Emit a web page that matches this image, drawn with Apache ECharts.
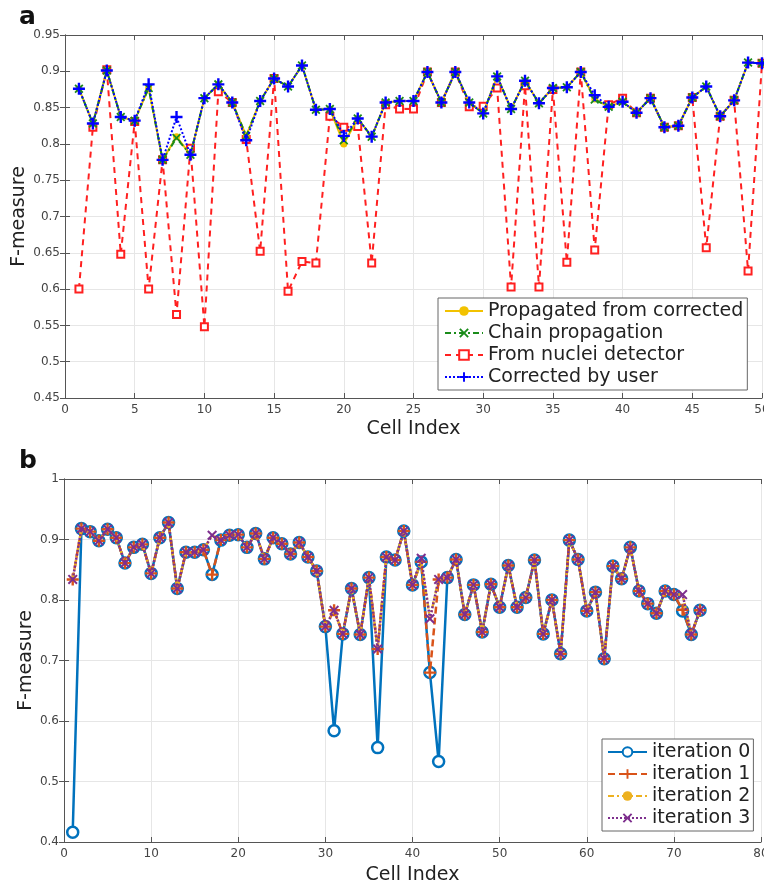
<!DOCTYPE html>
<html>
<head>
<meta charset="utf-8">
<script src="https://cdn.jsdelivr.net/npm/echarts@6/dist/echarts.min.js"></script>
<style>
html,body{margin:0;padding:0;background:#fff;}
#chart{width:764px;height:885px;}
</style>
</head>
<body>
<div id="chart"></div>
<script>
// ---------- Panel a data ----------
var cellsA = [1,2,3,4,5,6,7,8,9,10,11,12,13,14,15,16,17,18,19,20,21,22,23,24,25,26,27,28,29,30,31,32,33,34,35,36,37,38,39,40,41,42,43,44,45,46,47,48,49,50];
var propagatedA = [0.876,0.828,0.901,0.837,0.832,0.877,0.778,0.810,0.785,0.863,0.882,0.857,0.811,0.859,0.890,0.879,0.908,0.847,0.848,0.800,0.835,0.810,0.857,0.859,0.859,0.899,0.857,0.899,0.857,0.842,0.893,0.848,0.887,0.856,0.877,0.878,0.899,0.862,0.851,0.858,0.843,0.863,0.823,0.825,0.864,0.879,0.838,0.860,0.912,0.911];
var chainA = [0.876,0.828,0.901,0.837,0.832,0.877,0.778,0.808,0.785,0.863,0.882,0.857,0.811,0.859,0.890,0.879,0.908,0.847,0.848,0.805,0.835,0.810,0.857,0.859,0.859,0.899,0.857,0.899,0.857,0.842,0.893,0.848,0.887,0.856,0.877,0.878,0.899,0.861,0.851,0.858,0.843,0.863,0.823,0.825,0.864,0.879,0.838,0.860,0.912,0.911];
var detectorA = [0.600,0.823,0.902,0.648,0.831,0.600,0.778,0.565,0.794,0.548,0.872,0.857,0.806,0.652,0.890,0.597,0.638,0.636,0.838,0.823,0.824,0.636,0.854,0.848,0.848,0.899,0.857,0.899,0.851,0.852,0.877,0.603,0.880,0.603,0.875,0.637,0.899,0.654,0.854,0.863,0.843,0.863,0.823,0.825,0.864,0.657,0.838,0.860,0.625,0.911];
var userA = [0.876,0.828,0.901,0.837,0.832,0.882,0.778,0.837,0.785,0.863,0.882,0.857,0.805,0.859,0.890,0.879,0.908,0.847,0.848,0.811,0.835,0.810,0.857,0.859,0.859,0.899,0.857,0.899,0.857,0.842,0.893,0.848,0.887,0.856,0.877,0.878,0.899,0.867,0.851,0.858,0.843,0.863,0.823,0.825,0.864,0.879,0.838,0.860,0.912,0.911];
var namesA = ['Propagated from corrected','Chain propagation','From nuclei detector','Corrected by user'];

// ---------- Panel b data ----------
var cellsB = [1,2,3,4,5,6,7,8,9,10,11,12,13,14,15,16,17,18,19,20,21,22,23,24,25,26,27,28,29,30,31,32,33,34,35,36,37,38,39,40,41,42,43,44,45,46,47,48,49,50,51,52,53,54,55,56,57,58,59,60,61,62,63,64,65,66,67,68,69,70,71,72,73];
var iter0 = [0.416,0.918,0.913,0.898,0.917,0.903,0.861,0.887,0.892,0.844,0.903,0.928,0.819,0.879,0.879,0.883,0.842,0.899,0.907,0.908,0.887,0.910,0.868,0.903,0.893,0.876,0.895,0.871,0.848,0.756,0.584,0.744,0.819,0.743,0.837,0.556,0.871,0.866,0.914,0.825,0.863,0.680,0.533,0.837,0.867,0.776,0.825,0.747,0.826,0.788,0.857,0.788,0.804,0.866,0.744,0.800,0.711,0.899,0.867,0.782,0.813,0.703,0.856,0.835,0.887,0.815,0.794,0.778,0.815,0.809,0.782,0.743,0.783];
var iter1 = [0.834,0.918,0.913,0.898,0.917,0.903,0.861,0.887,0.892,0.844,0.903,0.928,0.819,0.879,0.879,0.883,0.842,0.899,0.907,0.908,0.887,0.910,0.868,0.903,0.893,0.876,0.895,0.871,0.848,0.756,0.783,0.744,0.819,0.743,0.837,0.719,0.871,0.866,0.914,0.825,0.863,0.680,0.834,0.837,0.867,0.776,0.825,0.747,0.826,0.788,0.857,0.788,0.804,0.866,0.744,0.800,0.711,0.899,0.867,0.782,0.813,0.703,0.856,0.835,0.887,0.815,0.794,0.778,0.815,0.809,0.784,0.743,0.783];
var iter2 = [0.834,0.918,0.913,0.898,0.917,0.903,0.861,0.887,0.892,0.844,0.903,0.928,0.819,0.879,0.879,0.883,0.907,0.899,0.907,0.908,0.887,0.910,0.868,0.903,0.893,0.876,0.895,0.871,0.848,0.756,0.783,0.744,0.819,0.743,0.837,0.719,0.871,0.866,0.914,0.825,0.863,0.769,0.834,0.837,0.867,0.776,0.825,0.747,0.826,0.788,0.857,0.788,0.804,0.866,0.744,0.800,0.711,0.899,0.867,0.782,0.813,0.703,0.856,0.835,0.887,0.815,0.794,0.778,0.815,0.809,0.809,0.743,0.783];
var iter3 = [0.834,0.918,0.913,0.898,0.917,0.903,0.861,0.887,0.892,0.844,0.903,0.928,0.819,0.879,0.879,0.883,0.907,0.899,0.907,0.908,0.887,0.910,0.868,0.903,0.893,0.876,0.895,0.871,0.848,0.756,0.783,0.744,0.819,0.743,0.837,0.719,0.871,0.866,0.914,0.825,0.869,0.769,0.834,0.837,0.867,0.776,0.825,0.747,0.826,0.788,0.857,0.788,0.804,0.866,0.744,0.800,0.711,0.899,0.867,0.782,0.813,0.703,0.856,0.835,0.887,0.815,0.794,0.778,0.815,0.809,0.809,0.743,0.783];
var namesB = ['iteration 0','iteration 1','iteration 2','iteration 3'];

// ---------- helpers ----------
var PLUS = 'path://M4,0H6V4H10V6H6V10H4V6H0V4H4Z';
var CROSS = 'path://M0,1.4L1.4,0L5,3.6L8.6,0L10,1.4L6.4,5L10,8.6L8.6,10L5,6.4L1.4,10L0,8.6L3.6,5Z';
function pairs(xs, ys){ return xs.map(function(x,i){ return [x, ys[i]]; }); }
var FONT = 'DejaVu Sans';
var tickLbl = {color:'#444', fontSize:12, fontFamily:FONT};
var axLine = {show:true, lineStyle:{color:'#555', width:1}};
var tickIn = {show:true, inside:true, length:5, lineStyle:{color:'#555'}};
var split = {show:true, lineStyle:{color:'#e6e6e6', width:1}};
var nameStyle = {color:'#222', fontSize:19, fontFamily:FONT};

function mainX(gi, max, interval, gap){
  return {type:'value', gridIndex:gi, min:0, max:max, interval:interval, position:'bottom',
    name:'Cell Index', nameLocation:'middle', nameGap:gap, nameMoveOverlap:false, nameTextStyle:nameStyle,
    axisLine:axLine, axisTick:tickIn, splitLine:split, axisLabel:Object.assign({margin:6}, tickLbl)};
}
function boxX(gi, max, interval){
  return {type:'value', gridIndex:gi, min:0, max:max, interval:interval, position:'top',
    axisLine:axLine, axisTick:tickIn, splitLine:{show:false}, axisLabel:{show:false}};
}
function mainY(gi, min, max, interval, gap){
  return {type:'value', gridIndex:gi, min:min, max:max, interval:interval, position:'left',
    name:'F-measure', nameLocation:'middle', nameGap:gap, nameMoveOverlap:false, nameTextStyle:nameStyle,
    axisLine:axLine, axisTick:tickIn, splitLine:split,
    axisLabel:Object.assign({margin:5, formatter:function(v){ return String(+v.toFixed(2)); }}, tickLbl)};
}
function boxY(gi, min, max, interval){
  return {type:'value', gridIndex:gi, min:min, max:max, interval:interval, position:'right',
    axisLine:axLine, axisTick:tickIn, splitLine:{show:false}, axisLabel:{show:false}};
}

var chart = echarts.init(document.getElementById('chart'), null, {renderer:'canvas'});
var option = {
  animation:false,
  backgroundColor:'#fff',
  title:[
    {text:'a', left:14, top:0, textStyle:{fontSize:25, fontWeight:'bold', color:'#111', fontFamily:FONT}},
    {text:'b', left:14, top:444, textStyle:{fontSize:25, fontWeight:'bold', color:'#111', fontFamily:FONT}}
  ],
  grid:[
    {left:65, top:35, width:697, height:363, containLabel:false, outerBoundsMode:'none'},
    {left:64, top:479, width:697, height:363, containLabel:false, outerBoundsMode:'none'}
  ],
  xAxis:[ mainX(0,50,5,22), boxX(0,50,5), mainX(1,80,10,24), boxX(1,80,10) ],
  yAxis:[ mainY(0,0.45,0.95,0.05,36), boxY(0,0.45,0.95,0.05), mainY(1,0.4,1,0.1,28), boxY(1,0.4,1,0.1) ],
  legend:[
    {data:namesA, orient:'vertical', left:438, top:298, padding:[3,4,3,6], itemGap:2,
     itemWidth:38, itemHeight:12, backgroundColor:'#fff', borderColor:'#666', borderWidth:1,
     textStyle:{fontSize:19, color:'#222', fontFamily:FONT, lineHeight:20}},
    {data:namesB, orient:'vertical', left:602, top:739, padding:[3,3,3,5], itemGap:2,
     itemWidth:39, itemHeight:12, backgroundColor:'#fff', borderColor:'#666', borderWidth:1,
     textStyle:{fontSize:19, color:'#222', fontFamily:FONT, lineHeight:20}}
  ],
  series:[
    {name:namesA[2], type:'line', xAxisIndex:0, yAxisIndex:0, data:pairs(cellsA, detectorA),
     lineStyle:{color:'#ff2020', width:2, type:[6,5]}, symbol:'rect', symbolSize:7,
     itemStyle:{color:'#fff', borderColor:'#ff2020', borderWidth:2}, z:2},
    {name:namesA[0], type:'line', xAxisIndex:0, yAxisIndex:0, data:pairs(cellsA, propagatedA),
     lineStyle:{color:'#f2c200', width:2, type:'solid'}, symbol:'circle', symbolSize:7,
     itemStyle:{color:'#f2c200'}, z:3},
    {name:namesA[1], type:'line', xAxisIndex:0, yAxisIndex:0, data:pairs(cellsA, chainA),
     lineStyle:{color:'#1a8c1a', width:2, type:[6,3,2,3]}, symbol:CROSS, symbolSize:9,
     itemStyle:{color:'#1a8c1a'}, z:4},
    {name:namesA[3], type:'line', xAxisIndex:0, yAxisIndex:0, data:pairs(cellsA, userA),
     lineStyle:{color:'#0000ff', width:2, type:[2,2]}, symbol:PLUS, symbolSize:12,
     itemStyle:{color:'#0000ff'}, z:5},

    {name:namesB[0], type:'line', xAxisIndex:2, yAxisIndex:2, data:pairs(cellsB, iter0),
     lineStyle:{color:'#0072BD', width:2.5, type:'solid'}, symbol:'circle', symbolSize:11,
     itemStyle:{color:'#fff', borderColor:'#0072BD', borderWidth:2.5}, z:2},
    {name:namesB[1], type:'line', xAxisIndex:2, yAxisIndex:2, data:pairs(cellsB, iter1),
     lineStyle:{color:'#D95319', width:2.5, type:[7,4]}, symbol:PLUS, symbolSize:12,
     itemStyle:{color:'#D95319'}, z:3},
    {name:namesB[2], type:'line', xAxisIndex:2, yAxisIndex:2, data:pairs(cellsB, iter2),
     lineStyle:{color:'#EDB120', width:2.5, type:[6,3,2,3]}, symbol:'none',
     itemStyle:{color:'#EDB120'}, z:4},
    {name:namesB[3], type:'line', xAxisIndex:2, yAxisIndex:2, data:pairs(cellsB, iter3),
     lineStyle:{color:'#7E2F8E', width:2.5, type:[2,2]}, symbol:CROSS, symbolSize:10,
     itemStyle:{color:'#7E2F8E'}, z:5}
  ]
};
chart.setOption(option);
</script>
</body>
</html>
